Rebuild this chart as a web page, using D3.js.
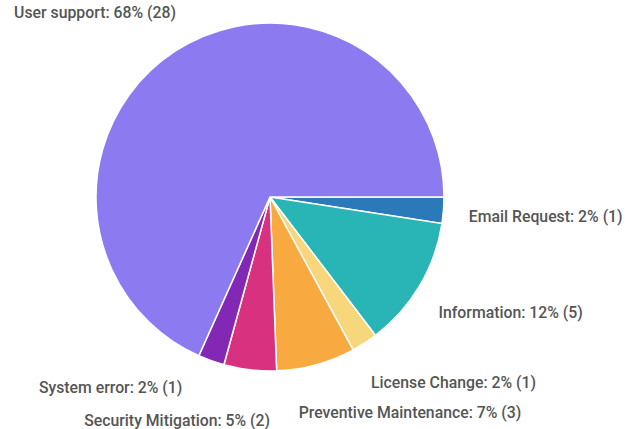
<!DOCTYPE html>
<html>
<head>
<meta charset="utf-8">
<script src="https://cdn.jsdelivr.net/npm/d3@7"></script>
<style>
  body { margin: 0; background: #fff; }
  #chart { width: 632px; height: 429px; }
  .label { font-family: Roboto, "Noto Sans", sans-serif; font-weight: 500; font-size: 15.8px; fill: #555; }
</style>
</head>
<body>
<div id="chart"></div>
<script>
// Chart data
const categories = ["Email Request", "Information", "License Change", "Preventive Maintenance",
  "Security Mitigation", "System error", "User support"];
const counts = [1, 5, 1, 3, 2, 1, 28];
const colors = ["#2c79ba", "#29b4b6", "#f8d67c", "#f8aa40", "#d7317f", "#8228b4", "#8c7af0"];

const width = 632, height = 429;
const cx = 270, cy = 197, radius = 174;

const svg = d3.select("#chart").append("svg")
  .attr("width", width)
  .attr("height", height);

const total = d3.sum(counts);
const data = categories.map((c, i) => ({ name: c, value: counts[i], color: colors[i] }));

// pie starts at 3 o'clock, going clockwise
const pie = d3.pie()
  .value(d => d.value)
  .sort(null)
  .startAngle(Math.PI / 2)
  .endAngle(Math.PI / 2 + 2 * Math.PI);

const arc = d3.arc().innerRadius(0).outerRadius(radius);
const labelArc = d3.arc().innerRadius(radius * 1.1).outerRadius(radius * 1.1);

const g = svg.append("g").attr("transform", `translate(${cx},${cy})`);

const arcs = pie(data);

g.selectAll("path")
  .data(arcs)
  .enter()
  .append("path")
  .attr("d", arc)
  .attr("fill", d => d.data.color)
  .attr("stroke", "#fff")
  .attr("stroke-width", 1.5);

// label nudges so texts don't collide (by category)
const nudge = {
  "Email Request": [8, 10, "start"],
  "Information": [4, 23, "start"],
  "License Change": [-3, 30, "start"],
  "Preventive Maintenance": [-22, 36, "start"],
  "Security Mitigation": [22, 39, "end"],
  "System error": [-23, 16, "end"],
  "User support": [10, -18, "end"]
};

g.selectAll("text")
  .data(arcs)
  .enter()
  .append("text")
  .attr("class", "label")
  .attr("transform", d => {
    const [x, y] = labelArc.centroid(d);
    const n = nudge[d.data.name];
    return `translate(${x + n[0]},${y + n[1]})`;
  })
  .attr("text-anchor", d => nudge[d.data.name][2])
  .text(d => `${d.data.name}: ${Math.round(d.data.value / total * 100)}% (${d.data.value})`);
</script>
</body>
</html>
